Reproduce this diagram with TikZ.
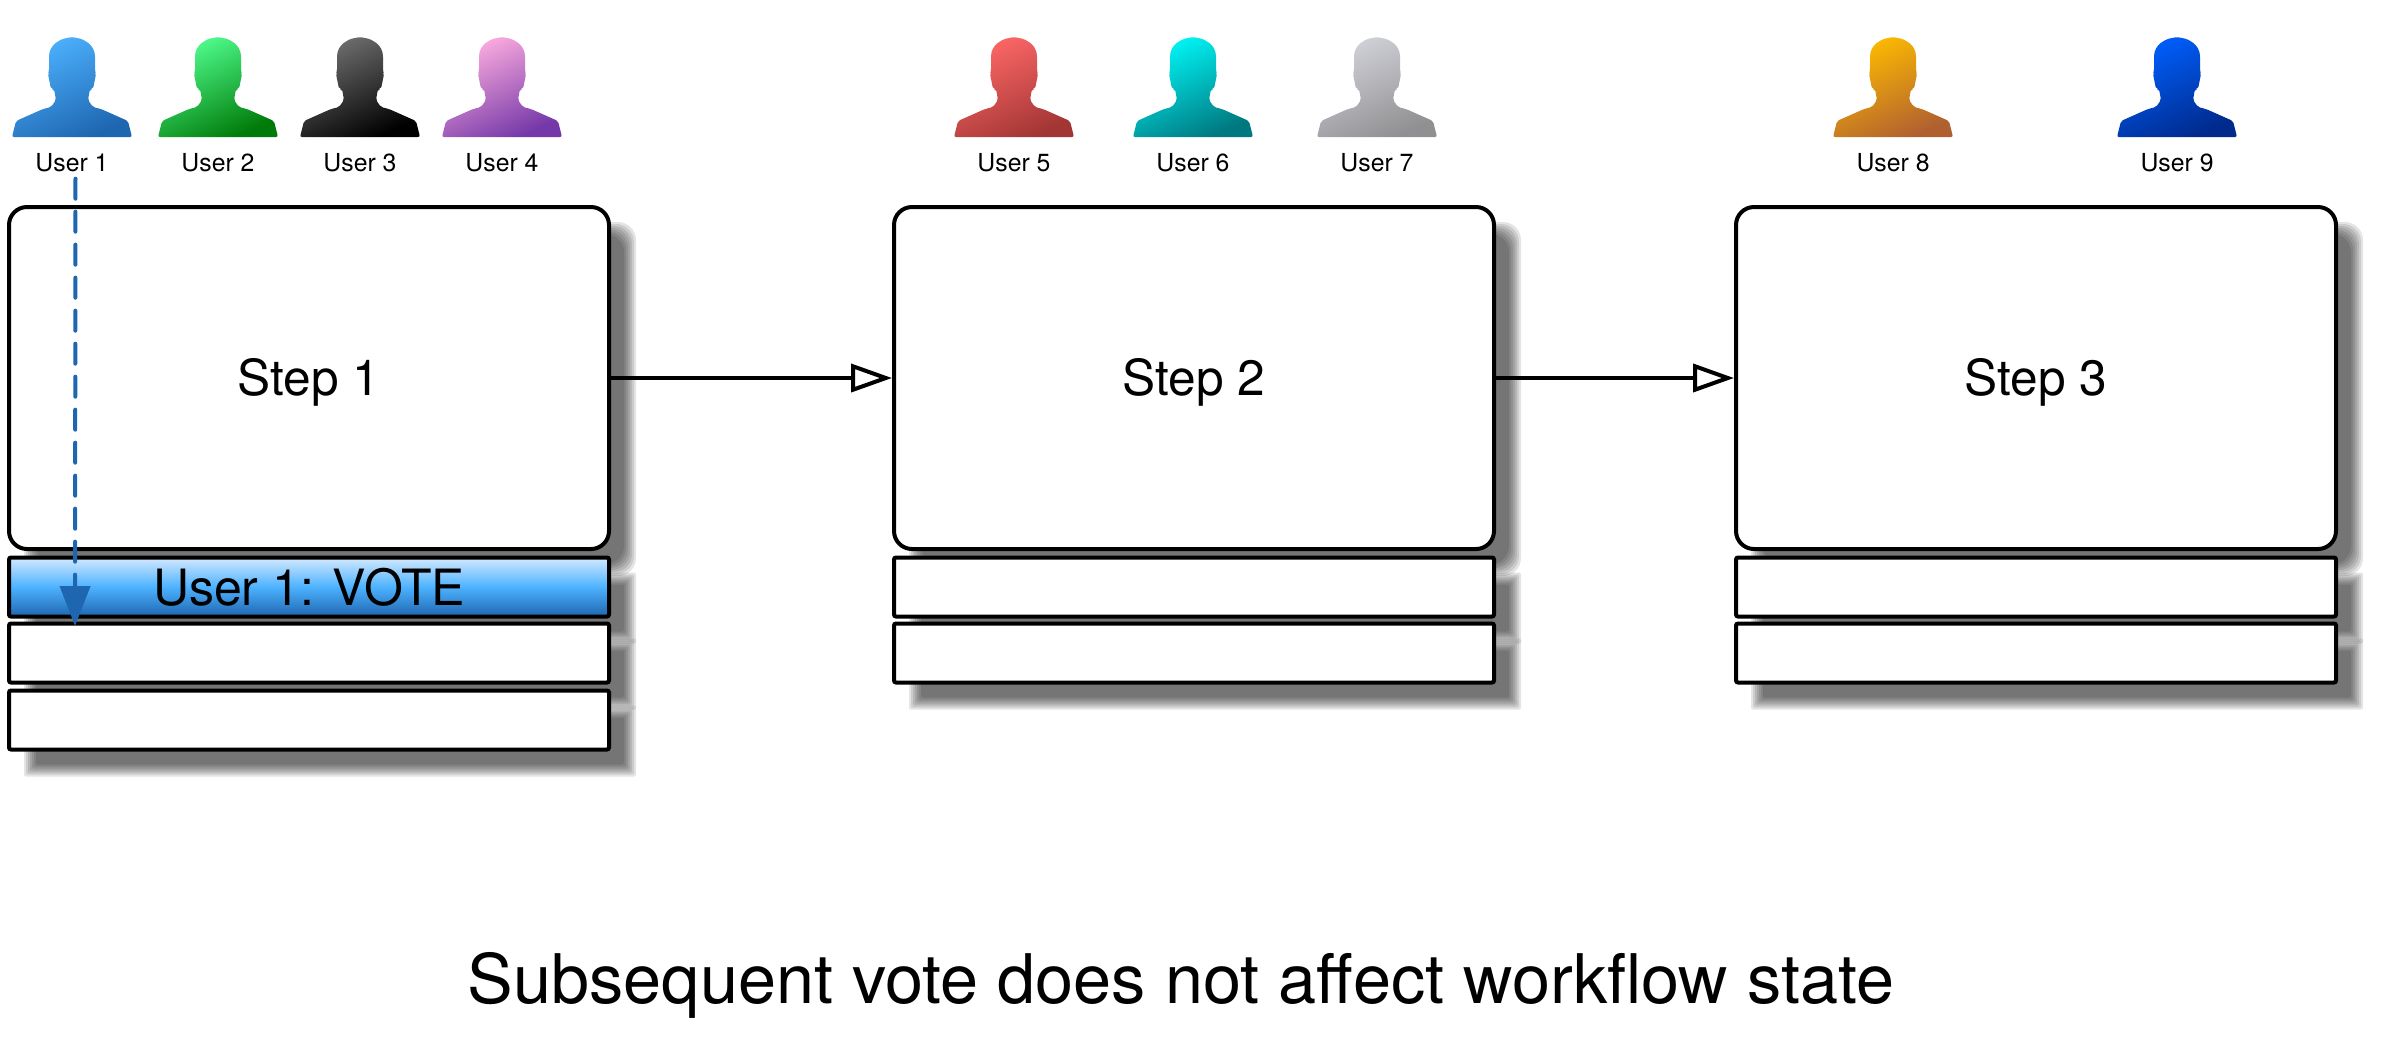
\documentclass[tikz,border=0pt]{standalone}
\usepackage{fontspec}
\setmainfont{TeX Gyre Heros}
\usetikzlibrary{arrows.meta,backgrounds}

\definecolor{blueA}{HTML}{4DB2FF}
\definecolor{blueB}{HTML}{1E66B0}
\definecolor{blueC}{HTML}{D3E9FF}
\definecolor{greenA}{HTML}{50FF90}
\definecolor{greenB}{HTML}{007A08}
\definecolor{blackA}{HTML}{707070}
\definecolor{blackB}{HTML}{000000}
\definecolor{pinkA}{HTML}{FFAEE0}
\definecolor{pinkB}{HTML}{7438A8}
\definecolor{redA}{HTML}{FF6868}
\definecolor{redB}{HTML}{A23634}
\definecolor{cyanA}{HTML}{00F8F8}
\definecolor{cyanB}{HTML}{007880}
\definecolor{greyA}{HTML}{D2D2DA}
\definecolor{greyB}{HTML}{909092}
\definecolor{amberA}{HTML}{FFBC00}
\definecolor{amberB}{HTML}{B06030}
\definecolor{navyA}{HTML}{0060FF}
\definecolor{navyB}{HTML}{002A8C}

\tikzset{
    userglyph/.style={rounded corners=1pt},
    userlabel/.style={inner sep=0pt, font=\fontsize{12.4}{14}\selectfont},
    stepbox/.style={draw, fill=white, line width=2pt, rounded corners=9pt, outer sep=0pt,
        minimum width=300pt, minimum height=171pt, text height=17.6pt, text depth=0pt,
        font=\fontsize{24.8}{28}\selectfont},
    slotbox/.style={draw, fill=white, line width=2pt, rounded corners=1pt, outer sep=0pt,
        minimum width=300pt, minimum height=29.5pt, inner sep=0pt},
    votebox/.style={slotbox, top color=blueC, bottom color=blueB, middle color=blueA,
        font=\fontsize{25}{28}\selectfont},
    flow/.style={line width=2pt, -{Triangle[open, fill=white, length=20.5pt, width=14pt]}},
    voteline/.style={blueB, line width=2pt, line cap=round, dash pattern=on 10pt off 6.5pt,
        -{Triangle[length=20pt, width=15pt]}}
}

% glyph of a user, origin at the middle of its base
\newcommand{\userpath}{
    (-60,0) -- (-56,-16) -- (-29,-28) -- (-21,-30) -- (-16,-37) -- (-18,-48) -- (-21,-48)
    -- (-24,-63) -- (-23,-66) -- (-23,-82) -- (-22,-87) -- (-18,-93) -- (-10,-98) -- (0,-100)
    -- (10,-98) -- (18,-93) -- (22,-87) -- (23,-82) -- (23,-66) -- (24,-63) -- (21,-48)
    -- (18,-48) -- (16,-37) -- (21,-30) -- (29,-28) -- (56,-16) -- (60,0) -- cycle
}

% soft shadow behind a node
\newcommand{\softshadow}[2]{
    \foreach \d in {6,4,...,-6} {
        \fill[black, opacity=0.105, rounded corners=#2]
            ([shift={(21-\d,21-\d)}]#1.north west) rectangle ([shift={(21+\d,21+\d)}]#1.south east);
    }
}

\begin{document}
\begin{tikzpicture}[x=0.5pt, y=-0.5pt]
    \useasboundingbox (0,0) rectangle (2383,1041);

    % Users
    \foreach \cx/\num/\lite/\dark in {72/1/blueA/blueB, 218/2/greenA/greenB, 360/3/blackA/blackB,
        502/4/pinkA/pinkB, 1014/5/redA/redB, 1193/6/cyanA/cyanB, 1377/7/greyA/greyB,
        1893/8/amberA/amberB, 2177/9/navyA/navyB} {
        \shade[userglyph, top color=\lite, bottom color=\dark, shading angle=25, shift={(\cx,137)}] \userpath;
        \node[userlabel] (user\num) at (\cx,163) {User \num};
    }

    % Steps
    \node[stepbox] (step1) at (309,378) {Step 1};
    \node[stepbox] (step2) at (1194,378) {Step 2};
    \node[stepbox] (step3) at (2036,378) {Step 3};

    % Vote slots
    \node[votebox] (slot11) at (309,587) {User 1: VOTE};
    \foreach \col/\cx in {2/1194, 3/2036} {
        \node[slotbox] (slot\col1) at (\cx,587) {};
    }
    \foreach \col/\cx in {1/309, 2/1194, 3/2036} {
        \node[slotbox] (slot\col2) at (\cx,653) {};
    }
    \node[slotbox] (slot13) at (309,720) {};

    % Shadows
    \begin{scope}[on background layer]
        \foreach \n in {step1, step2, step3} {
            \softshadow{\n}{9pt}
        }
        \foreach \n in {slot11, slot12, slot13, slot21, slot22, slot31, slot32} {
            \softshadow{\n}{1pt}
        }
    \end{scope}

    % Arrows
    \draw[flow, shorten >=1pt] (step1) -- (step2);
    \draw[flow, shorten >=1pt] (step2) -- (step3);

    % Vote
    \coordinate (votetip) at (75,626);
    \draw[voteline] ([xshift=1.75pt, yshift=-3pt]user1.south) -- (votetip);

    % Caption
    \node[font=\fontsize{34.2}{40}\selectfont] (caption) at (1181,985) {Subsequent vote does not affect workflow state};
\end{tikzpicture}
\end{document}
